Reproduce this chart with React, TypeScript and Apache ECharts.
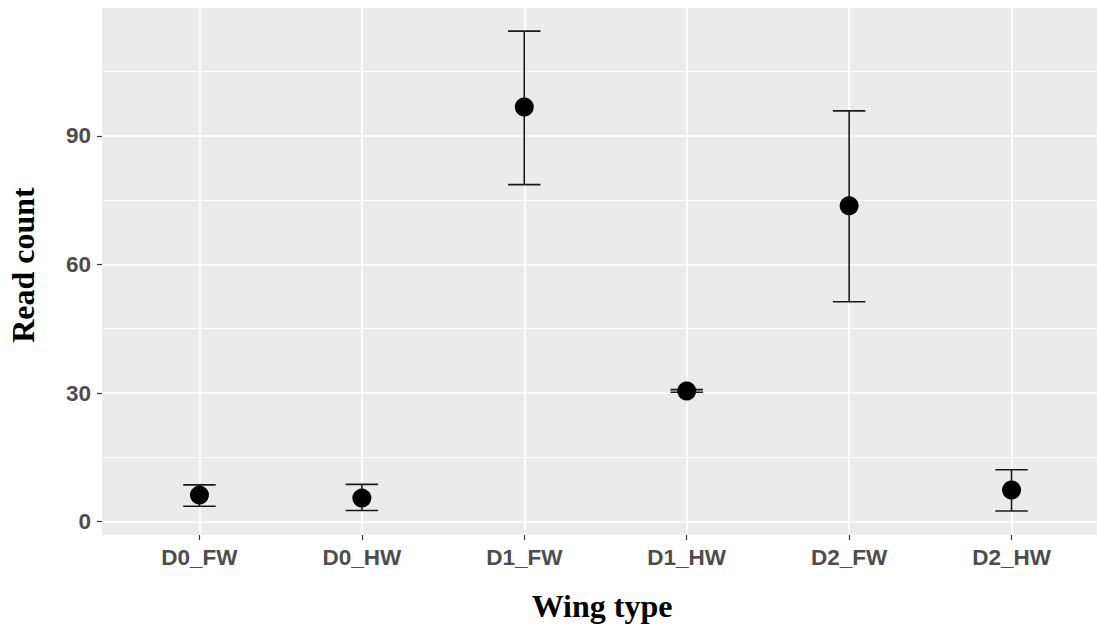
import React, { useEffect, useRef } from "react";
import * as echarts from "echarts";

const categories = ["D0_FW", "D0_HW", "D1_FW", "D1_HW", "D2_FW", "D2_HW"];
const means = [6.2, 5.5, 96.7, 30.5, 73.7, 7.4];
const lowers = [3.6, 2.6, 78.6, 30.2, 51.3, 2.5];
const uppers = [8.6, 8.7, 114.4, 30.8, 95.8, 12.1];
const yMajorTicks = [0, 30, 60, 90];
const yMinorTicks = [15, 45, 75, 105];
const xTitle = "Wing type";
const yTitle = "Read count";

export default function App() {
  const ref = useRef<HTMLDivElement>(null);
  useEffect(() => {
    if (!ref.current) return;
    const chart = echarts.init(ref.current, null, { renderer: "svg" });
    const idx = categories.map((_, i) => i);
    const labelStyle = {
      color: "#4D4D4D",
      fontFamily: "'Liberation Sans', Arial, sans-serif",
      fontWeight: "bold" as const,
      fontSize: 22.5,
    };
    chart.setOption({
      animation: false,
      backgroundColor: "#FFFFFF",
      grid: {
        left: 102,
        top: 8,
        right: -12,
        bottom: 93,
        show: true,
        backgroundColor: "#EBEBEB",
        borderWidth: 0,
        containLabel: false,
        outerBoundsMode: "none",
      },
      xAxis: {
        type: "value",
        min: -0.6,
        max: 5.6,
        axisLine: { show: false, onZero: false },
        axisTick: {
          show: true,
          customValues: idx,
          length: 5,
          lineStyle: { color: "#333333", width: 1.2 },
        },
        axisLabel: {
          ...labelStyle,
          customValues: idx,
          margin: 11,
          formatter: (v: number) => categories[Math.round(v)] ?? "",
        },
        splitLine: {
          show: true,
          showMinLine: true,
          showMaxLine: true,
          lineStyle: { color: "#FFFFFF", width: 1.6 },
        },
      },
      yAxis: [
        {
          type: "value",
          min: -3.1,
          max: 119.8,
          axisLine: { show: false, onZero: false },
          axisTick: {
            show: true,
            customValues: yMajorTicks,
            length: 5,
            lineStyle: { color: "#333333", width: 1.2 },
          },
          axisLabel: {
            ...labelStyle,
            customValues: yMajorTicks,
            margin: 11,
          },
          splitLine: {
            show: true,
            showMinLine: true,
            showMaxLine: true,
            lineStyle: { color: "#FFFFFF", width: 1.6 },
          },
        },
        {
          type: "value",
          min: -3.1,
          max: 119.8,
          position: "left",
          axisLine: { show: false, onZero: false },
          axisTick: { show: false, customValues: yMinorTicks },
          axisLabel: { show: false, customValues: yMinorTicks },
          splitLine: {
            show: true,
            showMinLine: true,
            showMaxLine: true,
            lineStyle: { color: "#FFFFFF", width: 0.8 },
          },
        },
      ],
      series: [
        {
          type: "custom",
          xAxisIndex: 0,
          yAxisIndex: 0,
          data: idx.map((i) => [i, lowers[i], uppers[i]]),
          encode: { x: 0, y: [1, 2] },
          z: 2,
          renderItem: (params: any, api: any) => {
            const x = api.value(0);
            const lo = api.coord([x, api.value(1)]);
            const hi = api.coord([x, api.value(2)]);
            const half = api.size([0.2, 0])[0] / 2;
            const style = { stroke: "#1A1A1A", lineWidth: 1.6, fill: null };
            return {
              type: "group",
              children: [
                { type: "line", shape: { x1: lo[0], y1: lo[1], x2: hi[0], y2: hi[1] }, style },
                { type: "line", shape: { x1: lo[0] - half, y1: lo[1], x2: lo[0] + half, y2: lo[1] }, style },
                { type: "line", shape: { x1: hi[0] - half, y1: hi[1], x2: hi[0] + half, y2: hi[1] }, style },
              ],
            };
          },
        },
        {
          type: "scatter",
          xAxisIndex: 0,
          yAxisIndex: 0,
          data: idx.map((i) => [i, means[i]]),
          symbol: "circle",
          symbolSize: 19,
          itemStyle: { color: "#000000", opacity: 1 },
          z: 3,
        },
      ],
      graphic: [
        {
          type: "text",
          x: 602,
          y: 606,
          style: {
            text: xTitle,
            fontFamily: "'Liberation Serif', 'Times New Roman', serif",
            fontWeight: "bold",
            fontSize: 32,
            fill: "#000000",
            textAlign: "center",
            textVerticalAlign: "middle",
          },
        },
        {
          type: "text",
          x: 23,
          y: 265,
          rotation: Math.PI / 2,
          style: {
            text: yTitle,
            fontFamily: "'Liberation Serif', 'Times New Roman', serif",
            fontWeight: "bold",
            fontSize: 32,
            fill: "#000000",
            textAlign: "center",
            textVerticalAlign: "middle",
          },
        },
      ],
    });
    return () => chart.dispose();
  }, []);
  return (
    <div
      ref={ref}
      style={{ position: "absolute", left: 0, top: 0, width: 1097, height: 628 }}
    />
  );
}
